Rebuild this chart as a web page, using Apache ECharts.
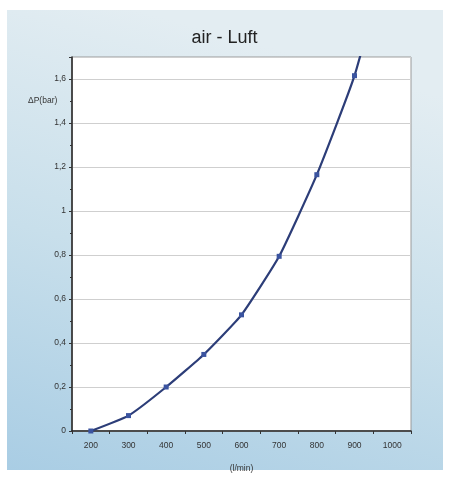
<!DOCTYPE html>
<html>
<head>
<meta charset="utf-8">
<script src="https://cdn.jsdelivr.net/npm/echarts@6/dist/echarts.min.js"></script>
<style>
html,body{margin:0;padding:0;background:#ffffff;}
#chart{width:449px;height:478px;}
</style>
</head>
<body>
<div id="chart"></div>
<script>
var categories = ['200','300','400','500','600','700','800','900','1000'];
var pressure = [0, 0.07, 0.2, 0.348, 0.528, 0.794, 1.165, 1.615, 2.25];
var titleText = 'air - Luft';
var yName = '\u0394P(bar)';
var xName = '(l/min)';

var chart = echarts.init(document.getElementById('chart'));
chart.setOption({
  animation: false,
  backgroundColor: '#ffffff',
  graphic: [
    {
      type: 'rect', z: -10,
      shape: {x: 7, y: 10, width: 436, height: 460},
      style: {
        fill: new echarts.graphic.LinearGradient(0.3, 0, 0, 1, [
          {offset: 0, color: '#e3edf2'},
          {offset: 0.5, color: '#c8dfeb'},
          {offset: 1, color: '#a9cde4'}
        ])
      }
    },
    {
      type: 'text', left: 28, top: 96,
      style: {text: yName, fontSize: 8.5, fill: '#333', fontFamily: 'Liberation Sans'}
    }
  ],
  title: {
    text: titleText, left: 'center', top: 24,
    textStyle: {fontSize: 18, fontWeight: 'normal', color: '#222', fontFamily: 'Liberation Sans'}
  },
  grid: {
    left: 72, right: 38, top: 57, bottom: 46,
    show: true, backgroundColor: '#ffffff', borderColor: '#9a9a9a', borderWidth: 1
  },
  xAxis: {
    type: 'category', data: categories, boundaryGap: true,
    name: xName, nameLocation: 'middle', nameGap: 33,
    nameTextStyle: {fontSize: 8.5, color: '#333', fontFamily: 'Liberation Sans'},
    axisLine: {lineStyle: {color: '#222', width: 1.5}},
    axisTick: {show: true, length: 3, alignWithLabel: false, lineStyle: {color: '#333'}},
    axisLabel: {fontSize: 8.5, color: '#333', margin: 10, fontFamily: 'Liberation Sans'},
    splitLine: {show: false}
  },
  yAxis: {
    type: 'value', min: 0, max: 1.7, interval: 0.2,
    axisLine: {show: true, lineStyle: {color: '#222', width: 1.5}},
    axisTick: {show: true, length: 3, lineStyle: {color: '#333'}},
    minorTick: {show: true, splitNumber: 2, length: 2, lineStyle: {color: '#333'}},
    axisLabel: {
      fontSize: 8.5, color: '#333', margin: 6, fontFamily: 'Liberation Sans',
      formatter: function (v) {
        if (v > 1.65) return '';
        return String(Math.round(v * 10) / 10).replace('.', ',');
      }
    },
    splitLine: {show: true, lineStyle: {color: '#cfcfcf', width: 1}}
  },
  series: [{
    type: 'line',
    data: pressure,
    smooth: 0.15,
    clip: true,
    symbol: 'rect',
    symbolSize: 5,
    itemStyle: {color: '#3b54a0'},
    lineStyle: {color: '#2c3d78', width: 2.2}
  }]
});
</script>
</body>
</html>
